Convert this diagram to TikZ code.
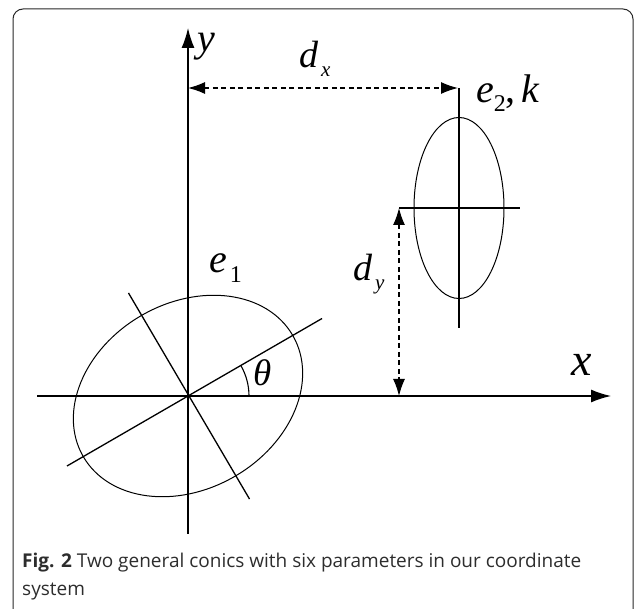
\documentclass[tikz,border=0pt]{standalone}
\usepackage{fontspec}
\setmainfont{Liberation Serif}
\newfontfamily\capfont{Open Sans}
\usetikzlibrary{arrows.meta}
\definecolor{captext}{RGB}{45,45,45}
\definecolor{framec}{RGB}{40,40,40}
\newcommand{\fs}[1]{\fontsize{#1}{#1}\selectfont}
\begin{document}
\begin{tikzpicture}[x=1pt,y=-1pt,
  axisline/.style={line width=1.5pt, -{Latex[length=20pt,width=13pt]}},
  dimline/.style={line width=1.3pt, dash pattern=on 5pt off 3.5pt, {Latex[length=17pt,width=12pt]}-{Latex[length=17pt,width=12pt]}},
  thinline/.style={line width=1.3pt},
  conic/.style={line width=1pt},
  lbl/.style={anchor=base west, inner sep=0pt, outer sep=0pt},
  captxt/.style={anchor=base west, inner sep=0pt, text=captext, font=\capfont\fs{19}}
]
\useasboundingbox (0,0) rectangle (635,609);
% frame
\draw[line width=1pt, draw=framec, rounded corners=10pt] (13,615) -- (13,9) -- (633,9) -- (633,615);

% named points
\coordinate (O1) at (188,396);
\coordinate (O2) at (459,208);
\coordinate (ybot) at (188,534);
\coordinate (ytop) at (188,28);
\coordinate (xleft) at (37,396);
\coordinate (xright) at (611,396);
\coordinate (maj1) at (322,318.5);
\coordinate (maj2) at (67,466);
\coordinate (min1) at (128.5,293);
\coordinate (min2) at (249.5,499);
\coordinate (v2top) at (459,88);
\coordinate (v2bot) at (459,328);
\coordinate (h2left) at (399,208);
\coordinate (h2right) at (520,208);
\coordinate (dxl) at (188,88);
\coordinate (dxr) at (458,88);
\coordinate (dyb) at (399,396);
\coordinate (arcstart) at (249,396);

% axes
\draw[axisline] (ybot) -- (ytop);
\draw[axisline] (xleft) -- (xright);

% conic e1
\draw[conic] (O1) ellipse [x radius=121, y radius=93, rotate=30];
\draw[thinline] (maj2) -- (maj1);
\draw[thinline] (min1) -- (min2);
\draw[line width=1.1pt] (arcstart) arc[start angle=0, end angle=-30, radius=61];

% conic e2
\draw[conic] (O2) ellipse [x radius=45, y radius=90.5];
\draw[thinline] (v2top) -- (v2bot);
\draw[thinline] (h2left) -- (h2right);

% dimension arrows
\draw[dimline] (dxl) -- (dxr);
\draw[dimline] (h2left) -- (dyb);

% labels
\node[lbl] (ylab) at (197,52) {\fs{40}\itshape y};
\node[lbl] (xlab) at (571,376) {\fs{46}\itshape x};
\node[lbl] (dxlab) at (299,68) {\fs{38}\itshape d\hspace{3pt}\raisebox{-9pt}{\fs{21}x}};
\node[lbl] (dylab) at (353,281) {\fs{38}\itshape d\hspace{3pt}\raisebox{-9pt}{\fs{21}y}};
\node[lbl] (e1lab) at (209,273) {\fs{40}\itshape e\hspace{3pt}\raisebox{-10pt}{\upshape\fs{24}1}};
\node[lbl] (e2lab) at (476,103) {\fs{40}\itshape e\raisebox{-9pt}{\upshape\fs{24}2}\upshape,\hspace{6pt}\itshape k};
\node[lbl] (thlab) at (253,386) {\fs{37}\itshape θ};

% caption
\node[captxt] (cap1) at (22,567) {\textbf{Fig. 2} Two general conics with six parameters in our coordinate};
\node[captxt] (cap2) at (22,595) {system};
\end{tikzpicture}
\end{document}
